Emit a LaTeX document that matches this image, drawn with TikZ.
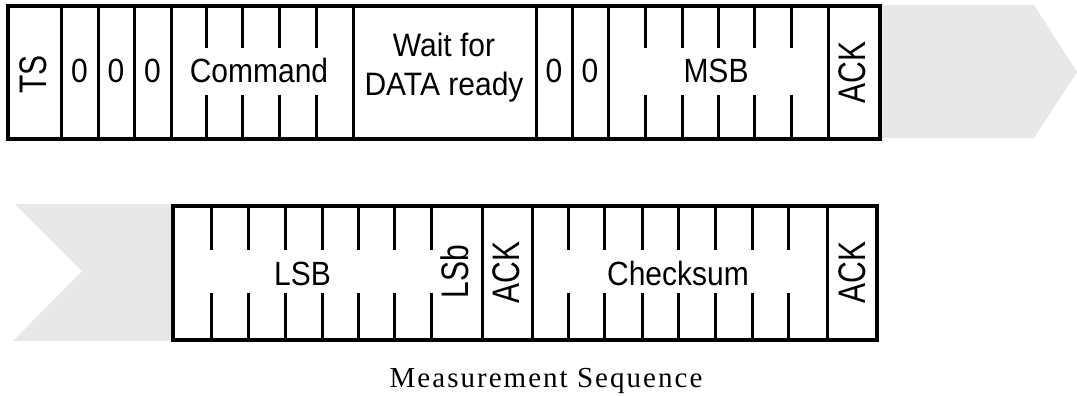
\documentclass[tikz,border=0pt]{standalone}
\usepackage{fontspec}
\setmainfont{Liberation Sans}
\newfontfamily\capfont[LetterSpace=7]{Liberation Serif}
\newcommand\hlab[1]{\scalebox{1}[1.12]{#1}}
\newcommand\rlab[1]{\scalebox{1}[1.28]{#1}}
\begin{document}
\begin{tikzpicture}[x=1pt,y=-1pt,
  outerbox/.style={line width=3.2pt},
  sepline/.style={line width=3pt},
  tickline/.style={line width=3pt},
  grayarrow/.style={fill=black!9, draw=none},
  lbl/.style={inner sep=0pt, font=\fontsize{30}{35}\selectfont},
  rlbl/.style={lbl, rotate=90},
  ]
\useasboundingbox[fill=white] (0,0) rectangle (1077,396);

% gray continuation arrows
\fill[grayarrow] (880,5) -- (1034,5) -- (1077,72) -- (1034,138) -- (880,138) -- cycle;
\fill[grayarrow] (15,204) -- (173,204) -- (173,341) -- (13,341) -- (82,271) -- cycle;

% top row
\draw[outerbox, fill=white] (8,6) rectangle (880,139);
\foreach \x in {61,98,134,171,353,536,572,608,828}
  \draw[sepline] (\x,6) -- (\x,139);
\foreach \x in {206,242,279,316,645,682,718,754,791} {
  \draw[tickline] (\x,6) -- (\x,48);
  \draw[tickline] (\x,95) -- (\x,139);
}

% bottom row
\draw[outerbox, fill=white] (173,206) rectangle (877,340);
\foreach \x in {482,532,827}
  \draw[sepline] (\x,206) -- (\x,340);
\foreach \x in {211,248,285,322,358,394,431,568,604,642,678,715,752,788} {
  \draw[tickline] (\x,206) -- (\x,250);
  \draw[tickline] (\x,293) -- (\x,340);
}

% labels top row
\node[rlbl] (ts) at (33,74.5) {\rlab{TS}};
\node[lbl, anchor=base] (z1) at (79.5,83) {\hlab{0}};
\node[lbl, anchor=base] (z2) at (116,83) {\hlab{0}};
\node[lbl, anchor=base] (z3) at (152.5,83) {\hlab{0}};
\node[lbl, anchor=base] (cmd) at (259,83) {\hlab{Command}};
\node[lbl] (wait) at (444,68) {\scalebox{1}[1.08]{\fontsize{30}{36}\selectfont\begin{tabular}{@{}c@{}}Wait for\\DATA ready\end{tabular}}};
\node[lbl, anchor=base] (z4) at (554,83) {\hlab{0}};
\node[lbl, anchor=base] (z5) at (590,83) {\hlab{0}};
\node[lbl, anchor=base] (msb) at (716,83) {\hlab{MSB}};
\node[rlbl] (ack1) at (852,72.5) {\rlab{ACK}};

% labels bottom row
\node[lbl, anchor=base] (lsb) at (302.5,285) {\hlab{LSB}};
\node[rlbl] (lsbit) at (455,271.5) {\rlab{LSb}};
\node[rlbl] (ack2) at (506.5,272.5) {\rlab{ACK}};
\node[lbl, anchor=base] (chk) at (678,285) {\hlab{Checksum}};
\node[rlbl] (ack3) at (852,272.5) {\rlab{ACK}};

% caption
\node[inner sep=0pt, anchor=base, font=\capfont\fontsize{29}{33}\selectfont] (cap) at (546,387) {Measurement Sequence};
\end{tikzpicture}
\end{document}
